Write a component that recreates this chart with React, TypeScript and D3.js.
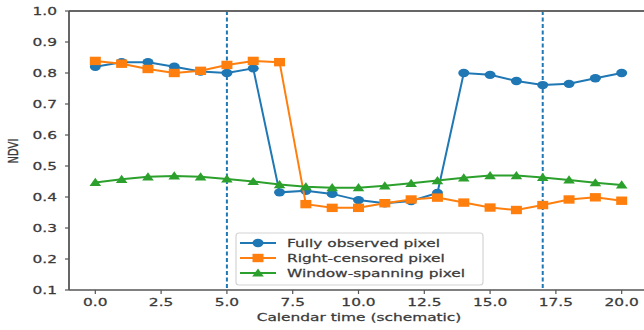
import * as d3 from "d3";

const times = d3.range(0, 21);
const fullyObserved = [0.82, 0.835, 0.835, 0.82, 0.805, 0.8, 0.815, 0.415, 0.42, 0.41, 0.39, 0.38, 0.387, 0.413, 0.8, 0.794, 0.774, 0.761, 0.765, 0.783, 0.8];
const rightCensored = [0.839, 0.83, 0.813, 0.8, 0.807, 0.826, 0.839, 0.835, 0.377, 0.365, 0.365, 0.38, 0.392, 0.398, 0.382, 0.366, 0.358, 0.374, 0.392, 0.399, 0.388];
const windowSpanning = [0.447, 0.457, 0.465, 0.468, 0.465, 0.458, 0.45, 0.44, 0.433, 0.43, 0.43, 0.436, 0.444, 0.453, 0.462, 0.469, 0.469, 0.463, 0.455, 0.446, 0.439];
const windowBounds = [5, 17];
const xTicks = [0, 2.5, 5, 7.5, 10, 12.5, 15, 17.5, 20];
const yTicks = [0.1, 0.2, 0.3, 0.4, 0.5, 0.6, 0.7, 0.8, 0.9, 1.0];
const seriesNames = ["Fully observed pixel", "Right-censored pixel", "Window-spanning pixel"];

const W = 644;
const H = 330;
const SX = 1.4; // the picture is stretched sideways
const margin = { left: 69, top: 11, right: 648, bottom: 290 };
const font = "DejaVu Sans, sans-serif";
const ink = "#3a3a3a";

const x = d3.scaleLinear().domain([-1, 21]).range([margin.left, margin.right]);
const y = d3.scaleLinear().domain([0.1, 1.0]).range([margin.bottom, margin.top]);

const series = [
  { name: seriesNames[0], values: fullyObserved, color: "#1f77b4", marker: "circle" },
  { name: seriesNames[1], values: rightCensored, color: "#ff7f0e", marker: "square" },
  { name: seriesNames[2], values: windowSpanning, color: "#2ca02c", marker: "triangle" },
];

function Marker({ kind, cx, cy, color }: { kind: string; cx: number; cy: number; color: string }) {
  if (kind === "circle") return <ellipse cx={cx} cy={cy} rx={5.5} ry={4.2} fill={color} />;
  if (kind === "square") return <rect x={cx - 5.5} y={cy - 4.2} width={11} height={8.4} fill={color} />;
  return <path d={`M${cx},${cy - 4.6} L${cx + 5.8},${cy + 3.6} L${cx - 5.8},${cy + 3.6} Z`} fill={color} />;
}

function Label({ px, py, anchor, size, rotate, children }: any) {
  return (
    <text
      transform={`translate(${px},${py}) scale(${SX},1)${rotate ? " rotate(-90)" : ""}`}
      textAnchor={anchor}
      fontFamily={font}
      fontSize={size}
      fill={ink}
      stroke={ink}
      strokeWidth={0.25}
    >
      {children}
    </text>
  );
}

export default function App() {
  const line = d3
    .line<number>()
    .x((_, i) => x(times[i]))
    .y((v) => y(v));

  const legendX = 236;
  const legendY = 233;

  return (
    <svg width={W} height={H} style={{ position: "absolute", left: 0, top: 0, background: "#fff" }}>
      {windowBounds.map((t) => (
        <line key={t} x1={x(t)} x2={x(t)} y1={margin.top} y2={margin.bottom} stroke="#1f77b4" strokeWidth={2} strokeDasharray="4,2.5" />
      ))}

      {series.map((s) => (
        <g key={s.name}>
          <path d={line(s.values) || ""} fill="none" stroke={s.color} strokeWidth={2} />
          {s.values.map((v, i) => (
            <Marker key={i} kind={s.marker} cx={x(times[i])} cy={y(v)} color={s.color} />
          ))}
        </g>
      ))}

      {/* spines */}
      <line x1={margin.left} x2={W} y1={margin.top} y2={margin.top} stroke="#666" strokeWidth={1.8} />
      <line x1={margin.left} x2={margin.left} y1={margin.top} y2={margin.bottom} stroke="#555" strokeWidth={1.8} />
      <line x1={margin.left} x2={W} y1={margin.bottom} y2={margin.bottom} stroke="#555" strokeWidth={1.6} />

      {xTicks.map((t) => (
        <g key={t}>
          <line x1={x(t)} x2={x(t)} y1={margin.bottom} y2={margin.bottom + 4} stroke="#555" strokeWidth={1.2} />
          <Label px={x(t)} py={306} anchor="middle" size={11}>
            {t.toFixed(1)}
          </Label>
        </g>
      ))}
      {yTicks.map((t) => (
        <g key={t}>
          <line x1={margin.left - 4} x2={margin.left} y1={y(t)} y2={y(t)} stroke="#555" strokeWidth={1.2} />
          <Label px={57} py={y(t) + 4} anchor="end" size={11}>
            {t.toFixed(1)}
          </Label>
        </g>
      ))}

      <Label px={359} py={321} anchor="middle" size={11}>
        Calendar time (schematic)
      </Label>
      <Label px={18} py={151} anchor="middle" size={10} rotate>
        NDVI
      </Label>

      <g>
        <rect x={legendX} y={legendY} width={247} height={52} rx={3} fill="#fff" fillOpacity={0.85} stroke="#d4d4d4" strokeWidth={1.2} />
        {series.map((s, i) => {
          const ly = 243 + i * 15;
          return (
            <g key={s.name}>
              <line x1={240} x2={276} y1={ly} y2={ly} stroke={s.color} strokeWidth={2} />
              <Marker kind={s.marker} cx={258} cy={ly} color={s.color} />
              <Label px={287} py={ly + 4} anchor="start" size={11}>
                {s.name}
              </Label>
            </g>
          );
        })}
      </g>
    </svg>
  );
}
